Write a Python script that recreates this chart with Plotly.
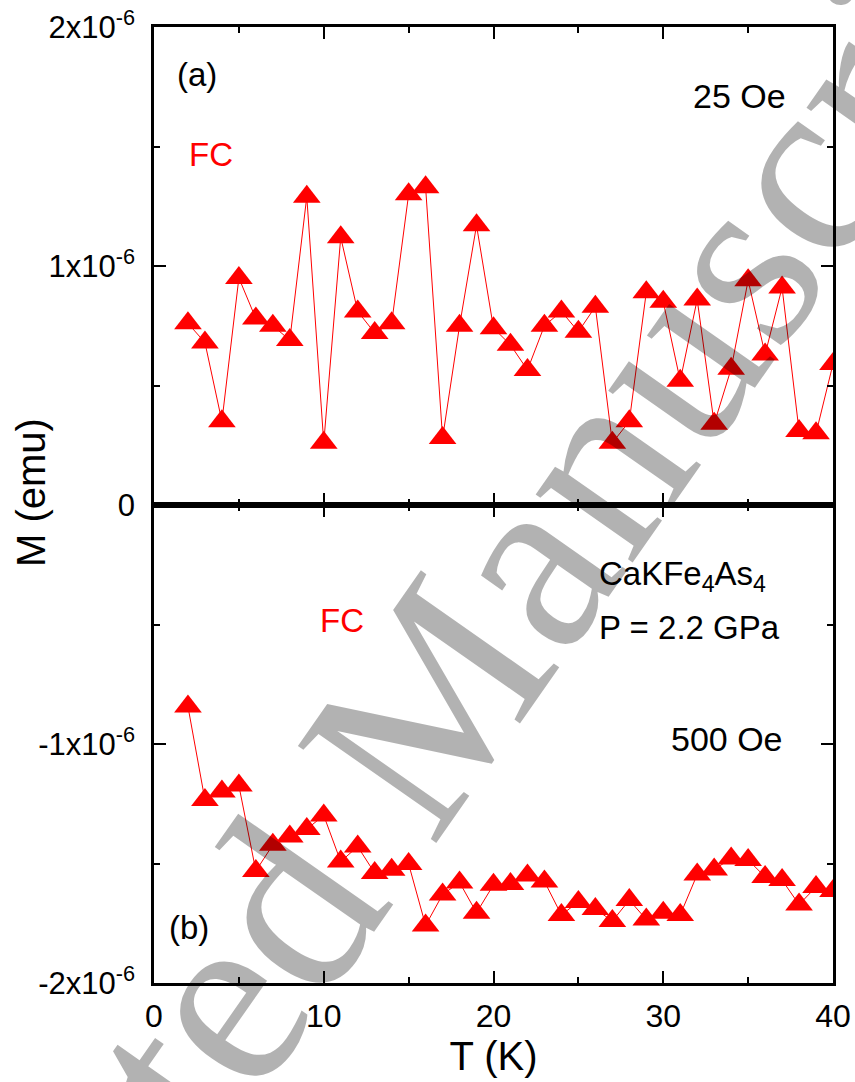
import plotly.graph_objects as go
from plotly.subplots import make_subplots

# Temperature (K)
T = list(range(2, 41))

# Magnetization in units of 1e-6 emu
M_25Oe_u = [0.76, 0.68, 0.35, 0.95, 0.78, 0.75, 0.69, 1.29, 0.26, 1.12,
            0.81, 0.72, 0.76, 1.30, 1.33, 0.28, 0.75, 1.17, 0.74, 0.67,
            0.565, 0.75, 0.81, 0.725, 0.83, 0.26, 0.35, 0.89, 0.85, 0.52,
            0.86, 0.34, 0.57, 0.94, 0.63, 0.91, 0.31, 0.30, 0.59]
M_500Oe_u = [-0.843, -1.234, -1.199, -1.174, -1.531, -1.422, -1.387, -1.356, -1.299, -1.492,
             -1.429, -1.540, -1.526, -1.502, -1.759, -1.630, -1.579, -1.706, -1.589, -1.586,
             -1.550, -1.575, -1.715, -1.661, -1.690, -1.741, -1.653, -1.734, -1.706, -1.715,
             -1.546, -1.525, -1.479, -1.485, -1.556, -1.569, -1.672, -1.598, -1.615]
M_25Oe = [v * 1e-6 for v in M_25Oe_u]
M_500Oe = [v * 1e-6 for v in M_500Oe_u]

x_ticks = [0, 10, 20, 30, 40]
top_tickvals = [0, 1e-6, 2e-6]
top_ticktext = ["0", "1x10<sup>-6</sup>", "2x10<sup>-6</sup>"]
bot_tickvals = [-2e-6, -1e-6]
bot_ticktext = ["-2x10<sup>-6</sup>", "-1x10<sup>-6</sup>"]

SANS = "Liberation Sans, Arial, sans-serif"
RED = "#ff0000"

fig = make_subplots(rows=2, cols=1, shared_xaxes=True, vertical_spacing=0)

for row, yv in ((1, M_25Oe), (2, M_500Oe)):
    fig.add_trace(go.Scatter(
        x=T, y=yv, mode="lines+markers",
        line=dict(color=RED, width=1),
        marker=dict(symbol="triangle-up", size=24, color=RED, line=dict(width=0)),
        showlegend=False), row=row, col=1)

axis_common = dict(showline=True, linecolor="black", linewidth=2.5, mirror="ticks",
                   ticks="inside", ticklen=12, tickwidth=2, tickcolor="black",
                   showgrid=False, zeroline=False, automargin=False)

fig.update_xaxes(range=[0, 40], tickvals=x_ticks,
                 minor=dict(tickvals=[5, 15, 25, 35], ticks="inside", ticklen=6,
                            tickwidth=2, tickcolor="black"),
                 **axis_common)
fig.update_xaxes(showticklabels=False, row=1, col=1)
fig.update_xaxes(showticklabels=True, tickfont=dict(family=SANS, size=32, color="black"),
                 ticklabelstandoff=3,
                 title=dict(text="T (K)", font=dict(family=SANS, size=40, color="black"),
                            standoff=4),
                 row=2, col=1)

fig.update_yaxes(range=[0, 2e-6], tickvals=top_tickvals, ticktext=top_ticktext,
                 minor=dict(tickvals=[0.5e-6, 1.5e-6], ticks="inside", ticklen=6,
                            tickwidth=2, tickcolor="black"),
                 tickfont=dict(family=SANS, size=31, color="black"), ticklabelstandoff=10,
                 row=1, col=1, **axis_common)
fig.update_yaxes(range=[-2e-6, 0], tickvals=bot_tickvals, ticktext=bot_ticktext,
                 minor=dict(tickvals=[-1.5e-6, -0.5e-6], ticks="inside", ticklen=6,
                            tickwidth=2, tickcolor="black"),
                 tickfont=dict(family=SANS, size=31, color="black"), ticklabelstandoff=10,
                 row=2, col=1, **axis_common)

fig.update_yaxes(domain=[0.5, 1.0], row=1, col=1)
fig.update_yaxes(domain=[0.0, 0.5], row=2, col=1)

def txt(text, x, y, row, color="black", size=33, xanchor="center"):
    fig.add_annotation(text=text, x=x, y=y, row=row, col=1, showarrow=False,
                       xanchor=xanchor, yanchor="middle",
                       font=dict(family=SANS, size=size, color=color))

txt("(a)", 2.53, 1.80e-6, 1)
txt("FC", 3.36, 1.467e-6, 1, color=RED)
txt("25 Oe", 34.5, 1.71e-6, 1, size=34)
txt("FC", 11.1, -0.485e-6, 2, color=RED)
txt("CaKFe<sub>4</sub>As<sub>4</sub>", 26.1, -0.297e-6, 2, size=33, xanchor="left")
txt("P = 2.2 GPa", 26.1, -0.513e-6, 2, size=33, xanchor="left")
txt("500 Oe", 33.75, -0.979e-6, 2, size=34)
txt("(b)", 2.06, -1.766e-6, 2)

# y-axis title spanning both panels
fig.add_annotation(text="M (emu)", xref="paper", yref="paper",
                   x=(31 - 154) / 679, y=(983 - 493) / 956, showarrow=False,
                   textangle=-90, xanchor="center", yanchor="middle",
                   font=dict(family=SANS, size=40, color="black"))

# Journal watermark
fig.add_annotation(text="Accepted Manuscript", xref="paper", yref="paper",
                   x=(400 - 154) / 679, y=(983 - 743) / 956, showarrow=False,
                   textangle=-55, xanchor="center", yanchor="middle",
                   font=dict(family="Liberation Serif, Times New Roman, serif", size=258,
                             color="rgba(0,0,0,0.3)"))

fig.update_layout(width=855, height=1082, margin=dict(l=154, r=22, t=27, b=99),
                  plot_bgcolor="white", paper_bgcolor="white")

fig.write_html("out.html")
